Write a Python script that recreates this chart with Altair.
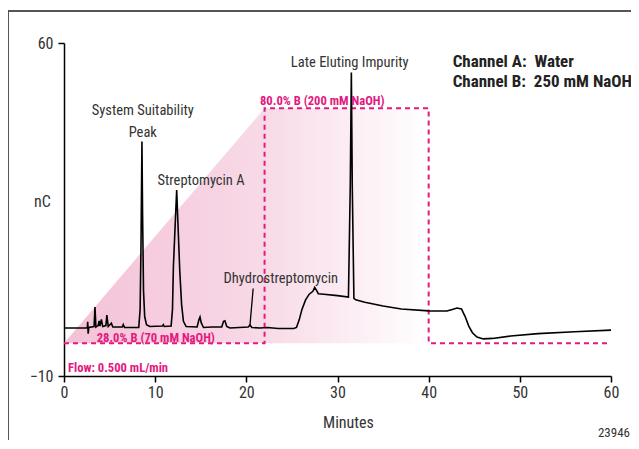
import altair as alt
import pandas as pd

FONT = "Roboto Condensed"
PINK = "#e3197f"
GRAY = "#333333"

# chromatogram trace (minutes, nC)
trace_t = [0.0, 2.55, 2.6, 2.65, 2.72, 3.3, 3.4, 3.5, 3.75, 3.85, 3.95, 4.1, 4.25, 4.6, 4.7, 4.85,
           5.2, 5.35, 6.4, 6.5, 6.65, 8.2, 8.35, 8.45, 8.55, 8.62, 8.72, 8.85, 9.05, 9.4,
           10.8, 10.9, 11.0, 11.75, 11.9, 12.0, 12.2, 12.36, 12.5, 12.7, 12.9, 13.1, 13.4,
           14.6, 14.8, 14.92, 15.05, 15.3, 16.2, 17.3, 17.5, 17.65, 17.85, 18.2,
           20.2, 20.4, 20.6, 21.5, 22.3, 23.5, 25.2, 25.5, 25.8, 26.1, 26.5, 26.9, 27.3, 27.5,
           27.7, 27.9, 28.5, 30.0, 31.2, 31.4, 31.52, 31.62, 31.8, 32.0, 33.0, 35.0, 37.0,
           40.0, 42.0, 42.6, 43.1, 43.6, 44.0, 44.4, 44.8, 45.3, 46.0, 47.0, 49.0, 52.0, 56.0, 60.0]
trace_v = [0.1, 0.1, 1.4, -1.1, 0.2, 0.4, 4.5, 0.3, 0.6, 1.6, 0.5, 1.9, 0.4, 0.6, 2.8, 0.4,
           1.1, 0.3, 0.3, 0.8, 0.2, 0.2, 4.0, 18.0, 39.3, 24.0, 8.0, 2.5, 0.8, 0.4,
           0.5, 0.8, 0.4, 0.5, 4.0, 13.0, 22.0, 29.1, 22.0, 12.0, 5.0, 1.5, 0.4,
           0.3, 1.8, 2.4, 1.2, 0.2, 0.3, 0.3, 1.5, 1.6, 0.4, 0.1,
           0.3, 0.7, 0.2, 0.1, 0.2, 0.0, 0.0, 0.2, 1.8, 4.0, 6.0, 7.2, 7.8, 8.6,
           8.0, 7.3, 7.2, 6.9, 6.6, 30.0, 53.8, 30.0, 6.3, 6.0, 5.5, 4.7, 4.1,
           3.7, 3.65, 4.0, 4.3, 4.1, 2.5, 0.5, -0.9, -1.8, -2.2, -2.1, -1.6, -1.1, -0.7, -0.35]

# gradient program (shaded region and dashed outline), in chart units
grad_t = [0, 22, 40]
grad_top = [-3.1, 46.3, 46.3]
grad_low = [-3.1, -3.1, -3.1]
step_t = [0, 22, 22, 40, 40, 60]
step_v = [-3.1, -3.1, 46.3, 46.3, -3.1, -3.1]

# peak labels
peak_text = ["System Suitability", "Peak", "Streptomycin A", "Dhydrostreptomycin", "Late Eluting Impurity"]
peak_tx = [8.64, 8.64, 15.03, 23.78, 31.34]
peak_ty = [44.86, 40.18, 30.15, 9.48, 55.0]

# leader line for Dhydrostreptomycin
lead_t = [20.75, 20.4]
lead_v = [8.4, 0.7]

# pink gradient labels (left aligned)
pink_text = ["80.0% B (200 mM NaOH)", "28.0% B (70 mM NaOH)", "Flow: 0.500 mL/min"]
pink_tx = [21.5, 3.59, 0.44]
pink_ty = [46.97, -2.79, -9.1]

# channel legend
chan_text = ["Channel A:\u00a0 Water", "Channel B:\u00a0 250 mM NaOH"]
chan_tx = [42.63, 42.63]
chan_ty = [55.0, 50.8]

x_ticks = [0, 10, 20, 30, 40, 50, 60]
y_ticks = [-10, 60]

xs = alt.Scale(domain=[0, 60], nice=False, zero=False)
ys = alt.Scale(domain=[-10, 60], nice=False, zero=False)

trace_df = pd.DataFrame({"t": trace_t, "v": trace_v, "o": list(range(len(trace_t)))})
grad_df = pd.DataFrame({"t": grad_t, "v": grad_top, "low": grad_low})
step_df = pd.DataFrame({"t": step_t, "v": step_v, "o": list(range(len(step_t)))})
peak_df = pd.DataFrame({"label": peak_text, "t": peak_tx, "v": peak_ty})
lead_df = pd.DataFrame({"t": lead_t, "v": lead_v})
pink_df = pd.DataFrame({"label": pink_text, "t": pink_tx, "v": pink_ty})
chan_df = pd.DataFrame({"label": chan_text, "t": chan_tx, "v": chan_ty})

axis_common = dict(
    domainColor="black", domainWidth=1.5, tickColor="black", tickWidth=1.5, tickSize=6,
    labelFont=FONT, labelFontSize=16, labelColor=GRAY, grid=False, labelFlush=False,
    titleFont=FONT, titleFontSize=16, titleColor=GRAY, titleFontWeight="normal",
)
x_axis = alt.Axis(values=x_ticks, title="Minutes", labelPadding=2,
                  titleX=284, titleY=51, titleBaseline="alphabetic", **axis_common)
y_axis = alt.Axis(values=y_ticks, title="nC", labelPadding=5, titleAngle=0,
                  titleX=-22, titleY=163, titleAlign="center", titleBaseline="alphabetic",
                  **axis_common)

X = alt.X("t:Q", scale=xs, axis=x_axis)
Y = alt.Y("v:Q", scale=ys, axis=y_axis)

gradient = alt.Gradient(
    gradient="linear",
    stops=[alt.GradientStop(color="#f4c1d7", offset=0),
           alt.GradientStop(color="#f8dae7", offset=0.55),
           alt.GradientStop(color="#ffffff", offset=1)],
    x1=0, x2=1, y1=0, y2=0,
)

area = alt.Chart(grad_df).mark_area(color=gradient, opacity=1).encode(x=X, y=Y, y2="low:Q")

steps = alt.Chart(step_df).mark_line(color=PINK, strokeWidth=2, strokeDash=[5, 4]).encode(
    x=X, y=Y, order="o:Q")

trace = alt.Chart(trace_df).mark_line(color="black", strokeWidth=1.6).encode(
    x=X, y=Y, order="o:Q")

lead = alt.Chart(lead_df).mark_line(color="black", strokeWidth=1.3).encode(x=X, y=Y)

peaks = alt.Chart(peak_df).mark_text(font=FONT, fontSize=14.5, color=GRAY, align="center",
                                     baseline="alphabetic").encode(x=X, y=Y, text="label:N")

pinks = alt.Chart(pink_df).mark_text(font=FONT, fontSize=12.6, fontWeight="bold", color=PINK,
                                     align="left", baseline="alphabetic").encode(x=X, y=Y, text="label:N")

chans = alt.Chart(chan_df).mark_text(font=FONT, fontSize=17, fontWeight="bold", color="#222222",
                                     align="left", baseline="alphabetic").encode(x=X, y=Y, text="label:N")

code = alt.Chart(alt.Data(values=[{"label": "23946"}])).mark_text(
    font=FONT, fontSize=13, color=GRAY, align="center", baseline="alphabetic").encode(
    x=alt.value(550), y=alt.value(394), text="label:N")

frame_top = alt.Chart(alt.Data(values=[{}])).mark_rule(color="#555555", strokeWidth=2).encode(
    x=alt.value(-57), x2=alt.value(575), y=alt.value(-32))
frame_left = alt.Chart(alt.Data(values=[{}])).mark_rule(color="#555555", strokeWidth=2).encode(
    x=alt.value(-56), y=alt.value(-32), y2=alt.value(400))

chart = alt.layer(area, steps, trace, lead, peaks, pinks, chans, code, frame_top, frame_left).properties(
    width=547, height=333,
    autosize=alt.AutoSizeParams(type="none"),
    padding={"left": 56, "top": 35, "right": 20, "bottom": 64},
).configure_view(stroke=None)

chart.save("out.html", embed_options={"renderer": "svg", "actions": False})
